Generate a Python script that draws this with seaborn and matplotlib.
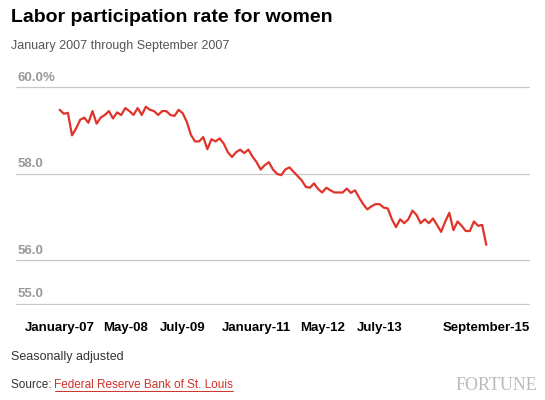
import matplotlib
matplotlib.use('Agg')
import matplotlib.pyplot as plt
import seaborn as sns
import pandas as pd

sns.set_style('white')
plt.rcParams['font.family'] = ['Liberation Sans', 'DejaVu Sans']

# 월별 여성 경제활동 참가율 (2007-01 ~ 2015-09)
rates = [
    59.48, 59.39, 59.41, 58.89, 59.05, 59.25, 59.30, 59.18, 59.45, 59.16,
    59.30, 59.36, 59.45, 59.28, 59.42, 59.36, 59.52, 59.45, 59.36, 59.52,
    59.36, 59.55, 59.48, 59.45, 59.36, 59.45, 59.45, 59.36, 59.34, 59.48,
    59.40, 59.20, 58.90, 58.75, 58.75, 58.85, 58.57, 58.80, 58.75, 58.82,
    58.70, 58.50, 58.39, 58.50, 58.56, 58.48, 58.56, 58.40, 58.27, 58.10,
    58.20, 58.27, 58.10, 58.00, 57.97, 58.10, 58.15, 58.05, 57.95, 57.85,
    57.70, 57.68, 57.78, 57.65, 57.57, 57.68, 57.62, 57.57, 57.57, 57.57,
    57.66, 57.56, 57.62, 57.45, 57.30, 57.18, 57.25, 57.30, 57.30, 57.22,
    57.20, 56.95, 56.77, 56.95, 56.86, 56.95, 57.15, 57.05, 56.86, 56.95,
    56.86, 56.97, 56.82, 56.66, 56.90, 57.10, 56.70, 56.90, 56.80, 56.68,
    56.68, 56.90, 56.80, 56.82, 56.36,
]
tick_months = [0, 16, 30, 48, 64, 78, 104]
tick_labels = ['January-07', 'May-08', 'July-09', 'January-11', 'May-12', 'July-13', 'September-15']
y_ticks = [55, 56, 58, 60]
y_labels = ['55.0', '56.0', '58.0', '60.0%']

df = pd.DataFrame({'month': range(len(rates)), 'rate': rates})

fig = plt.figure(figsize=(5.45, 4), dpi=100)
ax = fig.add_axes([0.029, 0.2375, 0.943, 0.5475])
sns.lineplot(data=df, x='month', y='rate', ax=ax, color='#e0332a', linewidth=1.6)

ax.set_xlim(-10.7, 114.6)
ax.set_ylim(54.97, 60.03)
for v, lab in zip(y_ticks, y_labels):
    ax.axhline(v, color='#c8c8c8', linewidth=0.9, zorder=0)
    ax.text(0.003, v + 0.08, lab, transform=ax.get_yaxis_transform(),
            color='#999999', fontsize=9.5, fontweight='bold', va='bottom')
ax.set_yticks([])
ax.set_xticks(tick_months)
ax.set_xticklabels(tick_labels, fontsize=9.5, fontweight='bold', color='black')
ax.tick_params(axis='x', length=0, pad=12)
ax.set_xlabel('')
ax.set_ylabel('')
sns.despine(ax=ax, left=True, bottom=True)

fig.text(0.02, 0.955, 'Labor participation rate for women', fontsize=14, fontweight='bold',
         color='black', va='center')
fig.text(0.02, 0.885, 'January 2007 through September 2007', fontsize=9, color='#555555', va='center')
fig.text(0.02, 0.107, 'Seasonally adjusted', fontsize=9, color='#333333', va='center')
fig.text(0.02, 0.037, 'Source: ', fontsize=8.5, color='#333333', va='center')
fig.text(0.1, 0.037, 'Federal Reserve Bank of St. Louis', fontsize=8.5, color='#d0302a', va='center')
fig.add_artist(plt.Line2D([0.1, 0.427], [0.022, 0.022], color='#d0302a', linewidth=0.7))
fig.text(0.985, 0.037, 'FORTUNE', fontsize=13, color='#bbbbbb', family='Liberation Serif',
         ha='right', va='center')

fig.savefig('out.png', dpi=100)
